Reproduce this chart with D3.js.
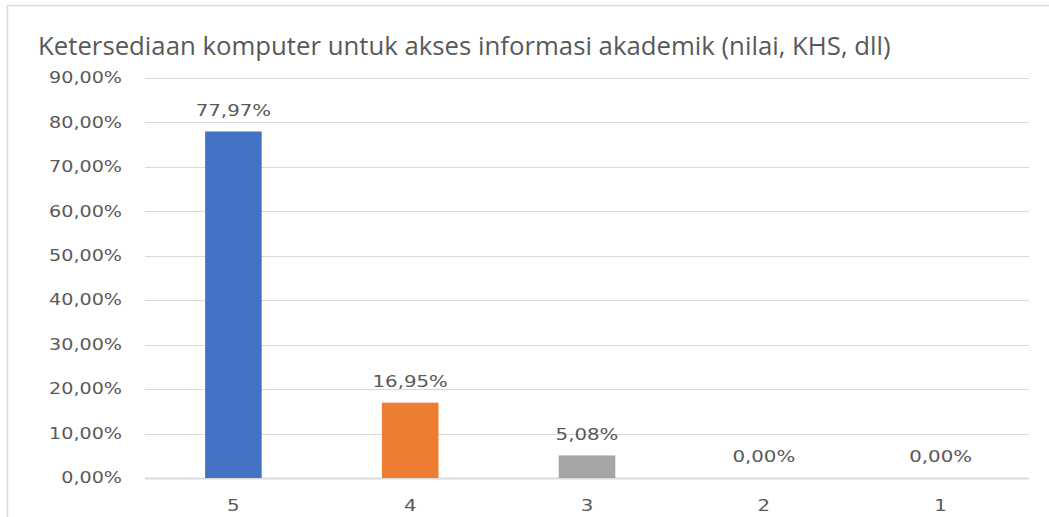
<!DOCTYPE html>
<html>
<head>
<meta charset="utf-8">
<script src="https://cdn.jsdelivr.net/npm/d3@7"></script>
<style>
  body { margin: 0; background: #fff; }
  text { font-family: "DejaVu Sans", sans-serif; fill: #595959; }
  .title { font-family: "Open Sans", "DejaVu Sans", sans-serif; }
</style>
</head>
<body>
<div id="chart"></div>
<script>
// data
const categories = ["5", "4", "3", "2", "1"];
const values = [77.97, 16.95, 5.08, 0, 0];
const barColors = ["#4472C4", "#ED7D31", "#A5A5A5", "#FFC000", "#5B9BD5"];
const yTicks = [0, 10, 20, 30, 40, 50, 60, 70, 80, 90];
const title = "Ketersediaan komputer untuk akses informasi akademik (nilai, KHS, dll)";

const width = 1049, height = 517;
const margin = { top: 78, right: 20, bottom: 39, left: 145 };

const svg = d3.select("#chart").append("svg")
  .attr("width", width)
  .attr("height", height);

// chart frame (only top/left edges show in the crop)
svg.append("rect")
  .attr("x", 7.5).attr("y", 5.5)
  .attr("width", width + 20).attr("height", height + 20)
  .attr("fill", "#fff")
  .attr("stroke", "#d9d9d9")
  .attr("stroke-width", 1.5);

const fmt = v => v.toFixed(2).replace(".", ",") + "%";

// the labels in the picture are drawn wide; measure once, then stretch
const probe = svg.append("text").style("font-size", "15px").text("90,00%");
const sx = 73 / probe.node().getComputedTextLength();
probe.remove();
const place = (px, py) => `translate(${px},${py}) scale(${sx},1)`;

const x = d3.scaleBand()
  .domain(categories)
  .range([margin.left, 1029])
  .paddingInner(0.68)
  .paddingOuter(0.34);

const y = d3.scaleLinear()
  .domain([0, 90])
  .range([478, margin.top]);

// gridlines
svg.append("g")
  .selectAll("line")
  .data(yTicks)
  .join("line")
  .attr("x1", margin.left)
  .attr("x2", 1029)
  .attr("y1", d => Math.round(y(d)) + 0.5)
  .attr("y2", d => Math.round(y(d)) + 0.5)
  .attr("stroke", "#d9d9d9")
  .attr("stroke-width", d => d === 0 ? 2 : 1);

// y tick labels
svg.append("g")
  .selectAll("text")
  .data(yTicks)
  .join("text")
  .attr("transform", d => place(122, y(d)))
  .attr("text-anchor", "end")
  .attr("dominant-baseline", "central")
  .style("font-size", "15px")
  .text(d => fmt(d));

// bars
svg.append("g")
  .selectAll("rect")
  .data(values)
  .join("rect")
  .attr("x", (d, i) => x(categories[i]))
  .attr("y", d => y(d))
  .attr("width", x.bandwidth())
  .attr("height", d => y(0) - y(d))
  .attr("fill", (d, i) => barColors[i]);

// value labels
svg.append("g")
  .selectAll("text")
  .data(values)
  .join("text")
  .attr("transform", (d, i) => place(x(categories[i]) + x.bandwidth() / 2, y(d) - 21))
  .attr("text-anchor", "middle")
  .attr("dominant-baseline", "central")
  .style("font-size", "15.5px")
  .text(d => fmt(d));

// category labels
svg.append("g")
  .selectAll("text")
  .data(categories)
  .join("text")
  .attr("transform", d => place(x(d) + x.bandwidth() / 2, 506))
  .attr("text-anchor", "middle")
  .attr("dominant-baseline", "central")
  .style("font-size", "15.5px")
  .text(d => d);

// title, fit to the width seen in the reference
const t = svg.append("text")
  .attr("class", "title")
  .attr("x", 38)
  .attr("y", 45)
  .attr("dominant-baseline", "central")
  .style("font-size", "22px")
  .text(title);
const tw = t.node().getComputedTextLength();
t.style("font-size", (22 * 853 / tw).toFixed(2) + "px");
</script>
</body>
</html>
